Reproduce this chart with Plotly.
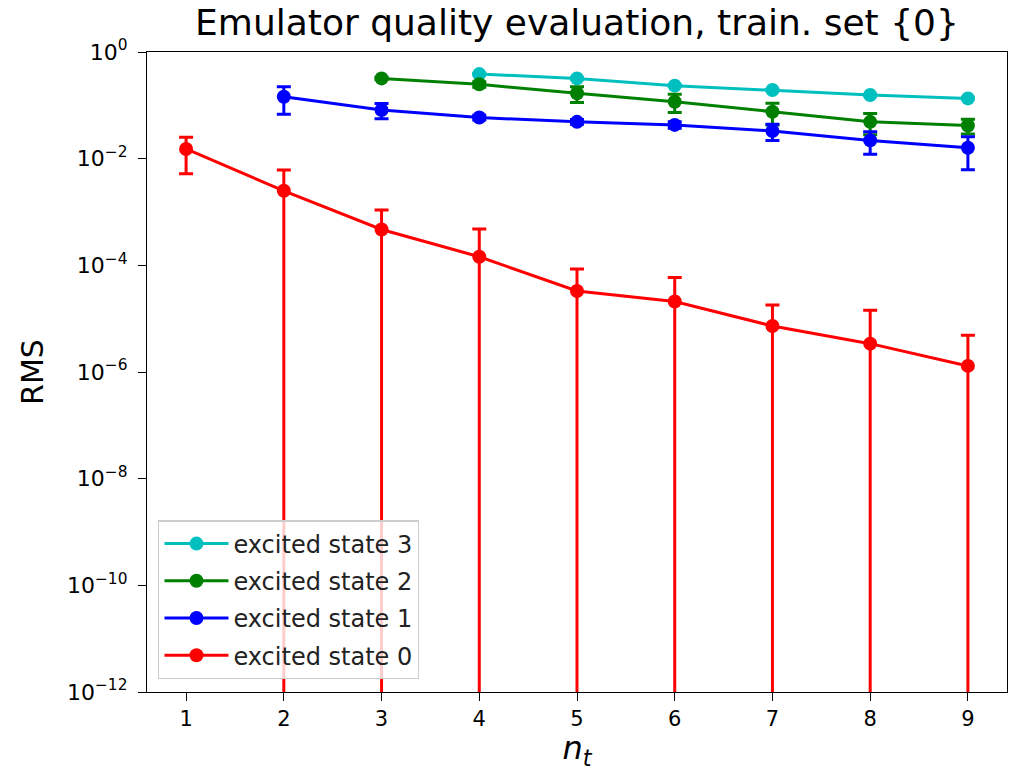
import plotly.graph_objects as go

# ---- data ----
nt_all = [1, 2, 3, 4, 5, 6, 7, 8, 9]

x_state3 = [4, 5, 6, 7, 8, 9]
y_state3 = [0.385, 0.32, 0.234, 0.194, 0.156, 0.135]
e_state3 = [0.010, 0.010, 0.008, 0.006, 0.005, 0.004]

x_state2 = [3, 4, 5, 6, 7, 8, 9]
y_state2 = [0.32, 0.248, 0.168, 0.117, 0.076, 0.049, 0.042]
e_state2 = [0.015, 0.030, 0.055, 0.044, 0.033, 0.021, 0.013]

x_state1 = [2, 3, 4, 5, 6, 7, 8, 9]
y_state1 = [0.145, 0.082, 0.059, 0.049, 0.043, 0.033, 0.022, 0.016]
e_state1 = [0.077, 0.026, 0.006, 0.005, 0.006, 0.011, 0.0099, 0.0098]

x_state0 = [1, 2, 3, 4, 5, 6, 7, 8, 9]
y_state0 = [1.52e-2, 2.5e-3, 4.7e-4, 1.45e-4, 3.3e-5, 2.1e-5, 7.3e-6, 3.4e-6, 1.3e-6]
e_state0 = [1.0e-2, 3.6e-3, 6.2e-4, 3.35e-4, 5.2e-5, 3.8e-5, 1.07e-5, 1.1e-5, 3.6e-6]

series = [
    ("excited state 3", x_state3, y_state3, e_state3, "#00BFBF"),
    ("excited state 2", x_state2, y_state2, e_state2, "#008000"),
    ("excited state 1", x_state1, y_state1, e_state1, "#0000FF"),
    ("excited state 0", x_state0, y_state0, e_state0, "#FF0000"),
]

ytick_vals = [1e0, 1e-2, 1e-4, 1e-6, 1e-8, 1e-10, 1e-12]
ytick_text = ["10<sup>0</sup>", "10<sup>\u22122</sup>", "10<sup>\u22124</sup>",
              "10<sup>\u22126</sup>", "10<sup>\u22128</sup>", "10<sup>\u221210</sup>",
              "10<sup>\u221212</sup>"]

FONT = "DejaVu Sans"

fig = go.Figure()
for i, (name, xs, ys, es, col) in enumerate(series):
    fig.add_trace(go.Scatter(
        x=xs, y=ys, name=name, mode="lines+markers",
        line=dict(color=col, width=3),
        marker=dict(color=col, size=14),
        error_y=dict(type="data", array=es, symmetric=True, color=col,
                     thickness=3, width=7),
        legendgroup=f"g{i}",
    ))

fig.update_layout(
    width=1015, height=771,
    margin=dict(l=147, r=8, t=52, b=79),
    paper_bgcolor="white", plot_bgcolor="white",
    font=dict(family=FONT, color="black"),
    title=dict(text="Emulator quality evaluation, train. set {0}",
               x=0.5, xref="paper", xanchor="center",
               y=1 - 22 / 771, yref="container", yanchor="middle",
               font=dict(size=36, family=FONT, color="black")),
    showlegend=True,
    legend=dict(x=0.013, y=0.02, xanchor="left", yanchor="bottom",
                bgcolor="rgba(255,255,255,0.8)", bordercolor="#cccccc",
                borderwidth=1.3, font=dict(size=24, family=FONT, color="#222222"),
                itemwidth=64,
                traceorder="grouped", tracegroupgap=3),
)
fig.update_xaxes(
    range=[0.6, 9.4], tickmode="array", tickvals=nt_all,
    ticks="outside", ticklen=8, tickwidth=1.3, tickcolor="black",
    showline=True, linecolor="black", linewidth=1.3, mirror=True,
    showgrid=False, zeroline=False,
    tickfont=dict(size=21, family=FONT, color="black"),
    title=dict(text="<i>n</i><sub><i>t</i></sub>", standoff=6,
               font=dict(size=32, family=FONT, color="black")),
)
fig.update_yaxes(
    type="log", range=[-12, 0], tickmode="array",
    tickvals=ytick_vals, ticktext=ytick_text,
    ticks="outside", ticklen=8, tickwidth=1.3, tickcolor="black",
    showline=True, linecolor="black", linewidth=1.3, mirror=True,
    showgrid=False, zeroline=False, ticklabelstandoff=6,
    tickfont=dict(size=22, family=FONT, color="black"),
    title=dict(text="RMS", standoff=14,
               font=dict(size=30, family=FONT, color="black")),
)

fig.write_html("out.html")
